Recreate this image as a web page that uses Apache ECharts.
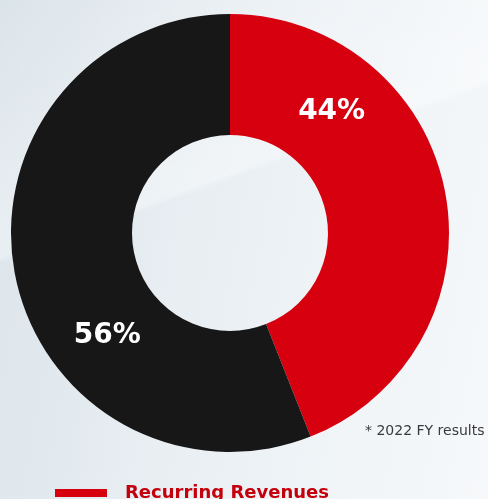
<!DOCTYPE html>
<html>
<head>
<meta charset="utf-8">
<script src="https://cdn.jsdelivr.net/npm/echarts@6/dist/echarts.min.js"></script>
<style>
  html, body { margin: 0; padding: 0; }
  body {
    width: 488px; height: 499px; overflow: hidden;
    background:
      linear-gradient(160deg, rgba(255,255,255,0) 0%, rgba(255,255,255,0.35) 38%, rgba(255,255,255,0) 39%, rgba(255,255,255,0) 100%),
      linear-gradient(100deg, #dbe4ea 0%, #e8eef2 40%, #f1f5f8 75%, #f6f8fa 100%);
  }
  #chart { width: 488px; height: 499px; }
</style>
</head>
<body>
<div id="chart"></div>
<script>
// Revenue split, FY 2022
const categories = ['Recurring Revenues', 'Non-Recurring Revenues'];
const shares = [44, 56];
const sliceColors = ['#d6000f', '#171717'];
const legendItems = ['Recurring Revenues'];
const footnote = '* 2022 FY results';

const chart = echarts.init(document.getElementById('chart'), null, { renderer: 'canvas' });

// percentage labels sit off the slice mid-angle, nudged toward the upper/left part of each slice
const labelOffsets = [[-57, -91], [36, 72]];

const data = categories.map((name, i) => ({
  name: name,
  value: shares[i],
  itemStyle: { color: sliceColors[i] },
  label: { offset: labelOffsets[i] }
}));

chart.setOption({
  backgroundColor: 'transparent',
  animation: false,
  title: {
    text: footnote,
    left: 360,
    top: 419,
    textStyle: {
      fontFamily: 'DejaVu Sans',
      fontSize: 14,
      fontWeight: 'normal',
      color: '#3a3a3a'
    }
  },
  legend: {
    data: legendItems,
    left: 50,
    top: 479,
    icon: 'rect',
    itemWidth: 52,
    itemHeight: 8,
    selectedMode: false,
    textStyle: {
      fontFamily: 'DejaVu Sans',
      fontSize: 18,
      fontWeight: 'bold',
      color: '#c4000c',
      padding: [0, 0, 0, 13]
    }
  },
  series: [{
    type: 'pie',
    center: [230, 233],
    radius: [98, 219],
    startAngle: 90,
    clockwise: true,
    avoidLabelOverlap: false,
    label: {
      show: true,
      position: 'inside',
      formatter: '{c}%',
      fontFamily: 'DejaVu Sans',
      fontSize: 28,
      fontWeight: 'bold',
      color: '#ffffff'
    },
    labelLine: { show: false },
    emphasis: { disabled: true },
    data: data
  }]
});
</script>
</body>
</html>
